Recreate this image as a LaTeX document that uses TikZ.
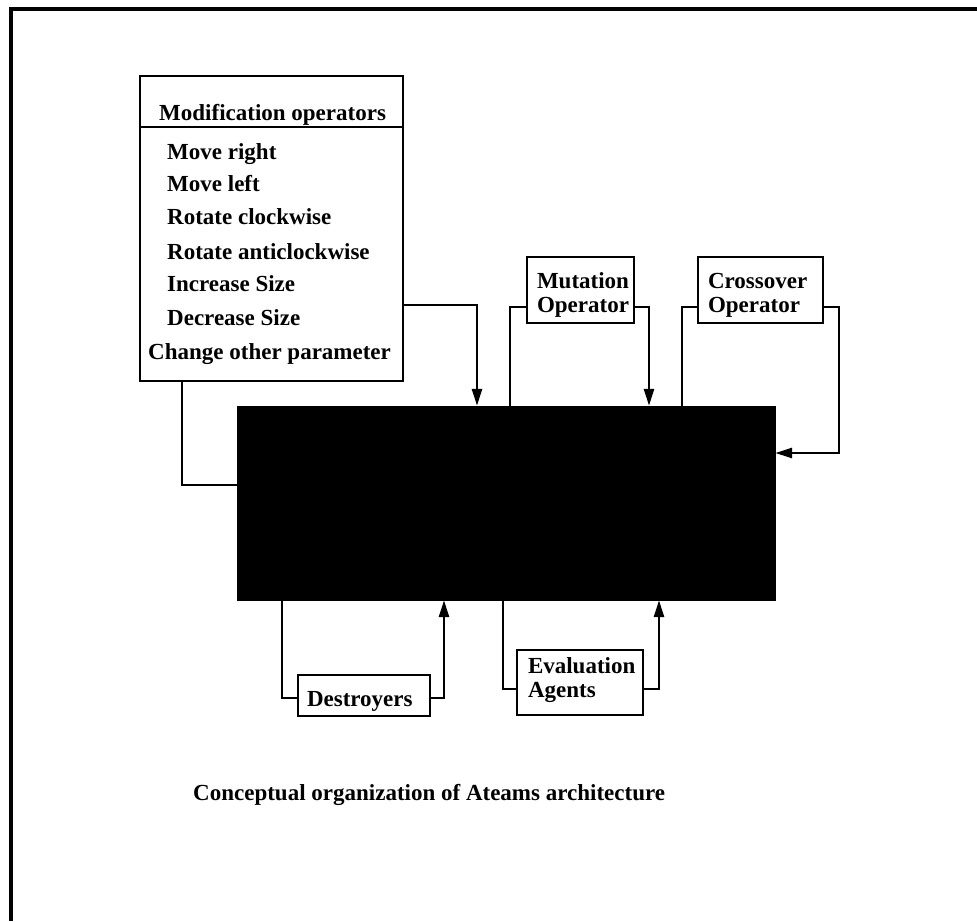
\documentclass[tikz,border=0pt]{standalone}
\usepackage{fontspec}
\setmainfont{Liberation Serif}
\usetikzlibrary{arrows.meta}
\begin{document}
\begin{tikzpicture}[x=1pt,y=-1pt,
  font=\fontsize{23}{24}\selectfont\bfseries,
  box/.style={draw, line width=2.6pt, inner xsep=10pt, inner ysep=0pt, align=left},
  link/.style={line width=2.7pt, line join=miter},
  arr/.style={link, -{Triangle[length=17pt,width=10pt]}},
  txt/.style={anchor=base west, inner sep=0pt}
]
\useasboundingbox (0,0) rectangle (977,921);
% page frame
\draw[line width=3.6pt] (977,9) -- (11,9) -- (11,921);

% modification operators panel
\node[draw, line width=2.6pt, minimum width=263pt, minimum height=305pt, inner sep=0pt] (mod) at (271.5,228.5) {};
\coordinate (divy) at (0,127);
\draw[line width=2.6pt] (mod.west |- divy) -- (mod.east |- divy);
\node[txt] (modtitle) at (159,120) {Modification operators};
\node[txt] (op1) at (167,159) {Move right};
\node[txt] (op2) at (167,191) {Move left};
\node[txt] (op3) at (167,224) {Rotate clockwise};
\node[txt] (op4) at (167,259) {Rotate anticlockwise};
\node[txt] (op5) at (167,291) {Increase Size};
\node[txt] (op6) at (167,325) {Decrease Size};
\node[txt] (op7) at (148,359) {Change other parameter};

% operator and agent boxes
\node[box, text width=87pt, minimum height=66pt, text height=20pt, text depth=24pt] (mut) at (580.5,290) {Mutation\\Operator};
\node[box, text width=105pt, minimum height=66pt, text height=20pt, text depth=24pt] (crs) at (760.5,290) {Crossover\\Operator};
\node[box, text width=114pt, inner xsep=9pt, minimum height=41pt, text height=22.4pt, text depth=0pt] (des) at (364,695.5) {Destroyers};
\node[box, text width=104pt, inner xsep=11pt, minimum height=65pt, text height=12pt, text depth=31pt] (eva) at (580,682.5) {Evaluation\\Agents};

% shared population of solutions
\node[fill=black, draw=black, minimum width=538pt, minimum height=194pt, inner sep=0pt] (pop) at (506,503) {};

% bend points of the connectors
\coordinate (mA) at (477,305);
\coordinate (mutL) at (510,307);
\coordinate (mutR) at (649,307);
\coordinate (crsL) at (682,307);
\coordinate (crsR) at (839,307);
\coordinate (crsIn) at (839,453);
\coordinate (modB) at (182,485);
\coordinate (desL) at (282,698);
\coordinate (desR) at (444,698);
\coordinate (evaL) at (503,689);
\coordinate (evaR) at (659,689);

\draw[arr] (mod.east |- mA) -| (pop.north -| mA);
\draw[link] (mut.west |- mutL) -| (pop.north -| mutL);
\draw[arr] (mut.east |- mutR) -| (pop.north -| mutR);
\draw[link] (crs.west |- crsL) -| (pop.north -| crsL);
\draw[arr] (crs.east |- crsR) -| (crsIn) -- (pop.east |- crsIn);
\draw[link] (mod.south -| modB) |- (pop.west |- modB);
\draw[link] (des.west |- desL) -| (pop.south -| desL);
\draw[arr] (des.east |- desR) -| (pop.south -| desR);
\draw[link] (eva.west |- evaL) -| (pop.south -| evaL);
\draw[arr] (eva.east |- evaR) -| (pop.south -| evaR);

% caption
\node[txt] (caption) at (193,800) {Conceptual organization of Ateams architecture};
\end{tikzpicture}
\end{document}
